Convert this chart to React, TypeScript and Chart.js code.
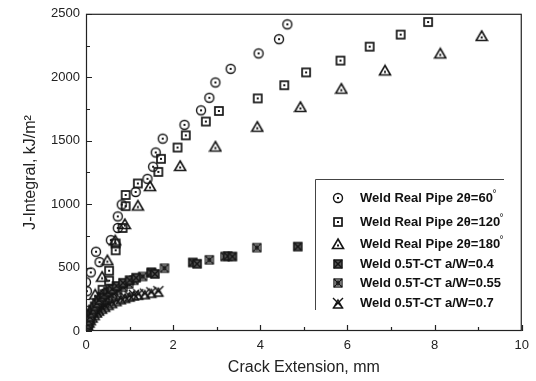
import React, { useEffect, useRef } from "react";
import { Chart, registerables } from "chart.js";

Chart.register(...registerables);

// ---- data ----
const pipe60X = [0.02, 0.02, 0.0, 0.11, 0.31, 0.23, 0.57, 0.73, 0.73, 0.82, 1.14, 1.41, 1.54, 1.6, 1.76, 2.26, 2.64, 2.83, 2.97, 3.32, 3.96, 4.43, 4.62];
const pipe60Y = [160, 314, 384, 462, 543, 625, 716, 812, 903, 997, 1096, 1199, 1295, 1407, 1516, 1625, 1739, 1838, 1959, 2066, 2188, 2300, 2417];

const pipe120X = [0.38, 0.53, 0.53, 0.68, 0.68, 0.84, 0.91, 0.91, 1.19, 1.66, 1.72, 2.1, 2.29, 2.75, 3.05, 3.94, 4.55, 5.05, 5.84, 6.51, 7.22, 7.85];
const pipe120Y = [325, 397, 475, 636, 690, 812, 984, 1072, 1163, 1254, 1357, 1446, 1542, 1651, 1734, 1833, 1937, 2038, 2131, 2241, 2336, 2435];

const pipe180X = [0.21, 0.37, 0.49, 0.67, 0.89, 1.19, 1.47, 2.16, 2.97, 3.93, 4.92, 5.86, 6.86, 8.13, 9.08];
const pipe180Y = [288, 428, 558, 714, 843, 989, 1142, 1301, 1454, 1610, 1766, 1910, 2054, 2188, 2326];

const ct04X = [0.02, 0.03, 0.04, 0.06, 0.09, 0.12, 0.16, 0.2, 0.25, 0.3, 0.36, 0.42, 0.5, 0.6, 0.7, 0.85, 1.0, 1.15, 1.5, 1.58, 2.45, 2.55, 3.25, 3.36, 4.86];
const ct04Y = [10, 30, 50, 80, 110, 140, 170, 195, 220, 245, 270, 290, 310, 330, 355, 380, 400, 420, 462, 450, 540, 530, 590, 587, 665];

const ct055X = [0.02, 0.05, 0.08, 0.12, 0.17, 0.22, 0.28, 0.35, 0.43, 0.52, 0.62, 0.72, 0.85, 0.98, 1.1, 1.3, 1.5, 1.8, 2.83, 3.19, 3.92];
const ct055Y = [30, 60, 90, 120, 150, 175, 200, 230, 255, 280, 300, 320, 345, 370, 400, 430, 460, 495, 561, 587, 657];

const ct07X = [0.01, 0.03, 0.05, 0.08, 0.11, 0.15, 0.2, 0.25, 0.3, 0.37, 0.44, 0.52, 0.6, 0.7, 0.8, 0.9, 1.0, 1.1, 1.2, 1.35, 1.5, 1.66];
const ct07Y = [10, 30, 50, 70, 90, 110, 130, 150, 165, 180, 195, 210, 225, 240, 255, 265, 275, 285, 290, 295, 305, 314];

const seriesLabels = [
  "Weld Real Pipe 2θ=60",
  "Weld Real Pipe 2θ=120",
  "Weld Real Pipe 2θ=180",
  "Weld 0.5T-CT a/W=0.4",
  "Weld 0.5T-CT a/W=0.55",
  "Weld 0.5T-CT a/W=0.7",
];
const seriesDegree = [true, true, true, false, false, false];
const markerKinds = ["circle", "square", "triangle", "sqx", "sqo", "xtri"];

const xMin = 0, xMax = 10, xMajor = 2, xMinor = 1;
const yMin = 0, yMax = 2500, yMajor = 500, yMinor = 250;
const xTitle = "Crack Extension, mm";
const yTitle = "J-Integral, kJ/m²";

function makeMarker(kind: string): HTMLCanvasElement {
  const s = 14;
  const c = document.createElement("canvas");
  c.width = s;
  c.height = s;
  const g = c.getContext("2d")!;
  const m = s / 2;
  g.strokeStyle = "#151515";
  g.fillStyle = "#151515";
  g.lineWidth = 1.4;
  if (kind === "circle") {
    g.beginPath();
    g.arc(m, m, 4.5, 0, Math.PI * 2);
    g.stroke();
    g.fillRect(m - 1, m - 1, 2, 2);
  } else if (kind === "square") {
    g.lineWidth = 1.7;
    g.strokeRect(m - 4, m - 4, 8, 8);
    g.fillRect(m - 1, m - 1, 2, 2);
  } else if (kind === "triangle") {
    g.lineWidth = 1.6;
    g.beginPath();
    g.moveTo(m, m - 5);
    g.lineTo(m + 5.5, m + 4.5);
    g.lineTo(m - 5.5, m + 4.5);
    g.closePath();
    g.stroke();
    g.fillRect(m - 1, m + 0.5, 2, 2);
  } else if (kind === "sqx") {
    g.fillStyle = "#555";
    g.fillRect(m - 4, m - 4, 8, 8);
    g.lineWidth = 1.5;
    g.strokeRect(m - 4, m - 4, 8, 8);
    g.beginPath();
    g.moveTo(m - 4, m - 4);
    g.lineTo(m + 4, m + 4);
    g.moveTo(m + 4, m - 4);
    g.lineTo(m - 4, m + 4);
    g.stroke();
  } else if (kind === "sqo") {
    g.lineWidth = 1.3;
    g.strokeRect(m - 4, m - 4, 8, 8);
    g.beginPath();
    g.moveTo(m - 4, m - 4);
    g.lineTo(m + 4, m + 4);
    g.moveTo(m + 4, m - 4);
    g.lineTo(m - 4, m + 4);
    g.stroke();
    g.beginPath();
    g.arc(m, m, 2, 0, Math.PI * 2);
    g.stroke();
  } else {
    g.lineWidth = 1.4;
    g.beginPath();
    g.moveTo(m - 5, m - 5);
    g.lineTo(m + 5, m + 5);
    g.moveTo(m + 5, m - 5);
    g.lineTo(m - 5, m + 5);
    g.moveTo(m, m - 3);
    g.lineTo(m + 4.5, m + 5);
    g.lineTo(m - 4.5, m + 5);
    g.closePath();
    g.stroke();
  }
  return c;
}

function toPoints(xs: number[], ys: number[]) {
  return xs.map((x, i) => ({ x, y: ys[i] }));
}

const FONT = "'Liberation Sans', Arial, sans-serif";

export default function App() {
  const ref = useRef<HTMLCanvasElement | null>(null);

  useEffect(() => {
    const canvas = ref.current;
    if (!canvas) return;
    const markers = markerKinds.map(makeMarker);
    const xsAll = [pipe60X, pipe120X, pipe180X, ct04X, ct055X, ct07X];
    const ysAll = [pipe60Y, pipe120Y, pipe180Y, ct04Y, ct055Y, ct07Y];

    const framePlugin = {
      id: "frameTicksLegend",
      afterDraw(chart: any) {
        const ctx = chart.ctx as CanvasRenderingContext2D;
        const { left, right, top, bottom } = chart.chartArea;
        const xs = chart.scales.x;
        const ys = chart.scales.y;
        ctx.save();
        ctx.strokeStyle = "#222";
        ctx.lineWidth = 1.2;
        ctx.strokeRect(left + 0.5, top + 0.5, right - left - 1, bottom - top - 1);
        ctx.beginPath();
        for (let v = xMin; v <= xMax + 1e-9; v += xMinor) {
          const px = Math.round(xs.getPixelForValue(v)) + 0.5;
          const len = Math.abs(v % xMajor) < 1e-9 ? 6 : 4;
          ctx.moveTo(px, bottom);
          ctx.lineTo(px, bottom - len);
        }
        for (let v = yMin; v <= yMax + 1e-9; v += yMinor) {
          const py = Math.round(ys.getPixelForValue(v)) + 0.5;
          const len = Math.abs(v % yMajor) < 1e-9 ? 6 : 4;
          ctx.moveTo(left, py);
          ctx.lineTo(left + len, py);
        }
        ctx.stroke();

        // legend
        const lx = 315, ly = 179, lr = 504, lb = 310;
        ctx.fillStyle = "#fff";
        ctx.fillRect(lx, ly, lr - lx, lb - ly);
        ctx.strokeStyle = "#444";
        ctx.lineWidth = 1;
        ctx.beginPath();
        ctx.moveTo(lx + 0.5, lb);
        ctx.lineTo(lx + 0.5, ly + 0.5);
        ctx.lineTo(lr, ly + 0.5);
        ctx.stroke();
        const rows = [198, 222, 244, 264, 283, 303];
        ctx.fillStyle = "#111";
        ctx.textBaseline = "middle";
        ctx.textAlign = "left";
        seriesLabels.forEach((label, i) => {
          const y = rows[i];
          const mk = markers[i];
          ctx.drawImage(mk, 338 - mk.width / 2, y - mk.height / 2);
          ctx.font = "bold 13px " + FONT;
          ctx.fillText(label, 360, y + 0.5);
          if (seriesDegree[i]) {
            const w = ctx.measureText(label).width;
            ctx.font = "10px " + FONT;
            ctx.fillText("°", 360 + w - 0.5, y - 4);
          }
        });
        ctx.restore();
      },
    };

    const chart = new Chart(canvas, {
      type: "scatter",
      data: {
        datasets: seriesLabels.map((label, i) => ({
          label,
          data: toPoints(xsAll[i], ysAll[i]),
          pointStyle: markers[i] as any,
          pointRadius: 5,
          borderColor: "#1a1a1a",
          backgroundColor: "#1a1a1a",
        })),
      },
      options: {
        responsive: false,
        animation: false,
        events: [],
        layout: { padding: { top: 10, right: 14, left: 0, bottom: 0 } },
        plugins: { legend: { display: false }, tooltip: { enabled: false } },
        scales: {
          x: {
            type: "linear",
            min: xMin,
            max: xMax,
            afterFit: (s: any) => {
              s.height = 50;
            },
            grid: { display: false, drawTicks: false },
            border: { display: false },
            ticks: {
              stepSize: xMajor,
              padding: 7,
              color: "#222",
              font: { family: FONT, size: 13 },
              callback: (v: any) => String(v),
            },
            title: {
              display: true,
              text: xTitle,
              color: "#222",
              font: { family: FONT, size: 16 },
              padding: { top: 0, bottom: 4 },
            },
          },
          y: {
            type: "linear",
            min: yMin,
            max: yMax,
            afterFit: (s: any) => {
              s.width = 86;
            },
            grid: { display: false, drawTicks: false },
            border: { display: false },
            ticks: {
              stepSize: yMajor,
              padding: 6,
              color: "#222",
              font: { family: FONT, size: 13 },
              callback: (v: any) => String(v),
            },
            title: {
              display: true,
              text: yTitle,
              color: "#222",
              font: { family: FONT, size: 16 },
              padding: { top: 21, bottom: 0 },
            },
          },
        },
      },
      plugins: [framePlugin],
    });
    return () => chart.destroy();
  }, []);

  return (
    <div style={{ position: "fixed", left: 0, top: 0, width: 536, height: 381, background: "#fff" }}>
      <canvas ref={ref} width={536} height={381} />
    </div>
  );
}
